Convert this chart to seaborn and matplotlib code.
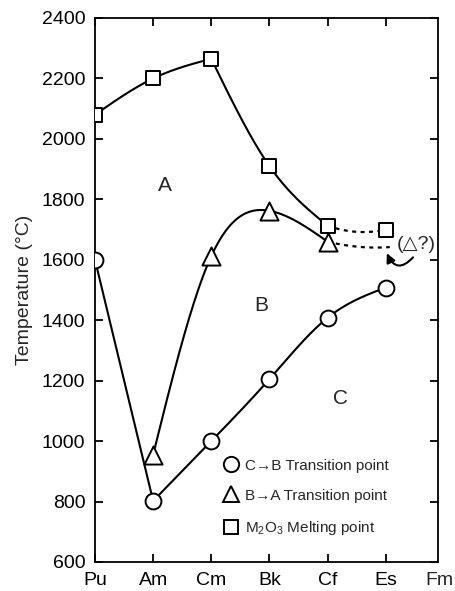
import numpy as np
import matplotlib
matplotlib.use("Agg")
import matplotlib.pyplot as plt
import seaborn as sns
from matplotlib.lines import Line2D

# ---------------- data ----------------
elements = ["Pu", "Am", "Cm", "Bk", "Cf", "Es", "Fm"]
elem_pos = [0, 1, 2, 3, 4, 5, 6]

melt_x = [0, 1, 2, 3, 4, 5]            # M2O3 melting point
melt_y = [2080, 2200, 2265, 1910, 1713, 1700]

ba_x = [1, 2, 3, 4]                      # B -> A transition
ba_y = [955, 1612, 1762, 1660]
ba_guess_x = 5.07                        # end of dotted guess line
ba_guess_y = 1642

cb_x = [0, 1, 2, 3, 4, 5]               # C -> B transition
cb_y = [1600, 802, 1000, 1205, 1408, 1508]

yticks = [600, 800, 1000, 1200, 1400, 1600, 1800, 2000, 2200, 2400]
region_labels = ["A", "B", "C"]
region_x = [1.2, 2.86, 4.22]
region_y = [1845, 1450, 1140]

legend_labels = ["C\u2192B Transition point", "B\u2192A Transition point",
                 "M$_2$O$_3$ Melting point"]


def natural_spline(x, y, n=200):
    x = np.asarray(x, float)
    y = np.asarray(y, float)
    k = len(x)
    h = np.diff(x)
    A = np.zeros((k, k))
    r = np.zeros(k)
    A[0, 0] = 1
    A[-1, -1] = 1
    for i in range(1, k - 1):
        A[i, i - 1] = h[i - 1]
        A[i, i] = 2 * (h[i - 1] + h[i])
        A[i, i + 1] = h[i]
        r[i] = 3 * ((y[i + 1] - y[i]) / h[i] - (y[i] - y[i - 1]) / h[i - 1])
    c = np.linalg.solve(A, r)
    xs, ys = [], []
    for i in range(k - 1):
        b = (y[i + 1] - y[i]) / h[i] - h[i] * (2 * c[i] + c[i + 1]) / 3
        d = (c[i + 1] - c[i]) / (3 * h[i])
        t = np.linspace(0, h[i], n)
        xs.append(x[i] + t)
        ys.append(y[i] + b * t + c[i] * t ** 2 + d * t ** 3)
    return np.concatenate(xs), np.concatenate(ys)


def sagging(x0, y0, x1, y1, sag, n=60):
    t = np.linspace(0, 1, n)
    cx, cy = (x0 + x1) / 2, (y0 + y1) / 2 - 2 * sag
    xs = (1 - t) ** 2 * x0 + 2 * (1 - t) * t * cx + t ** 2 * x1
    ys = (1 - t) ** 2 * y0 + 2 * (1 - t) * t * cy + t ** 2 * y1
    return xs, ys


# ---------------- style ----------------
sns.set_theme(style="ticks")
plt.rcParams["font.family"] = ["Liberation Sans", "DejaVu Sans"]
plt.rcParams["mathtext.fontset"] = "custom"
plt.rcParams["mathtext.rm"] = "Liberation Sans"

fig = plt.figure(figsize=(4.56, 5.91), dpi=100)
ax = fig.add_axes([95 / 456, 1 - 562 / 591, (438 - 95) / 456, (562 - 18) / 591])

lw = 1.5
kw = dict(color="black", lw=lw, zorder=2)

# melting point curves
sx, sy = natural_spline(melt_x[:3], melt_y[:3])
ax.plot(sx, sy, **kw)
sx, sy = natural_spline(melt_x[2:5], melt_y[2:5])
ax.plot(sx, sy, **kw)

# B->A curve
sx, sy = natural_spline(ba_x, ba_y)
ax.plot(sx, sy, **kw)

# C->B curves
ax.plot(cb_x[:2], cb_y[:2], **kw)
sx, sy = natural_spline(cb_x[1:], cb_y[1:])
ax.plot(sx, sy, **kw)

# dotted extensions
dot = dict(color="black", lw=1.6, ls=(0, (1.8, 2.0)), zorder=2)
sx, sy = sagging(melt_x[4], melt_y[4], melt_x[5], melt_y[5], 14)
ax.plot(sx, sy, **dot)
sx, sy = sagging(ba_x[3], ba_y[3], ba_guess_x, ba_guess_y, 8)
ax.plot(sx, sy, **dot)

ax.text(5.53, 1650, "(\u25b3?)", ha="center", va="center", fontsize=14)
ax.annotate("", xy=(5.02, 1622), xytext=(5.47, 1608),
            arrowprops=dict(arrowstyle="-|>,head_length=0.45,head_width=0.22", lw=1.5,
                            color="black", connectionstyle="arc3,rad=-0.75",
                            shrinkA=0, shrinkB=0))

# markers
mk = dict(facecolor="white", edgecolor="black", linewidth=1.4, zorder=3, ax=ax, legend=False)
sns.scatterplot(x=cb_x, y=cb_y, marker="o", s=130, **mk)
sns.scatterplot(x=ba_x, y=ba_y, marker="^", s=170, **mk)
sns.scatterplot(x=melt_x, y=melt_y, marker="s", s=110, **mk)

# region labels
for t, x, y in zip(region_labels, region_x, region_y):
    ax.text(x, y, t, ha="center", va="center", fontsize=15)

# axes
ax.set_xlim(0, 5.9)
ax.set_ylim(600, 2400)
ax.set_xticks(elem_pos[:6])
ax.set_xticklabels(elements[:6])
ax.set_yticks(yticks)
ax.tick_params(direction="in", top=True, right=True, length=6, width=1.3,
               labelsize=14, pad=7, color="black", labelcolor="black")
for s in ax.spines.values():
    s.set_linewidth(1.3)
    s.set_color("black")
ax.annotate(elements[6], xy=(5.92, 0), xycoords=ax.get_xaxis_transform(),
            xytext=(0, -7), textcoords="offset points", ha="center", va="top",
            fontsize=14, annotation_clip=False)
ax.set_ylabel("Temperature (\u00b0C)", fontsize=14, labelpad=6)

# legend
handles = [
    Line2D([], [], ls="none", marker="o", ms=11, mfc="white", mec="black", mew=1.4),
    Line2D([], [], ls="none", marker="^", ms=12, mfc="white", mec="black", mew=1.4),
    Line2D([], [], ls="none", marker="s", ms=10, mfc="white", mec="black", mew=1.4),
]
ax.legend(handles, legend_labels, loc="lower left", bbox_to_anchor=(0.357, 0.035),
          frameon=False, fontsize=11, handletextpad=0.4, labelspacing=1.05,
          handlelength=1.0, borderaxespad=0)

fig.savefig("out.png", dpi=100)
